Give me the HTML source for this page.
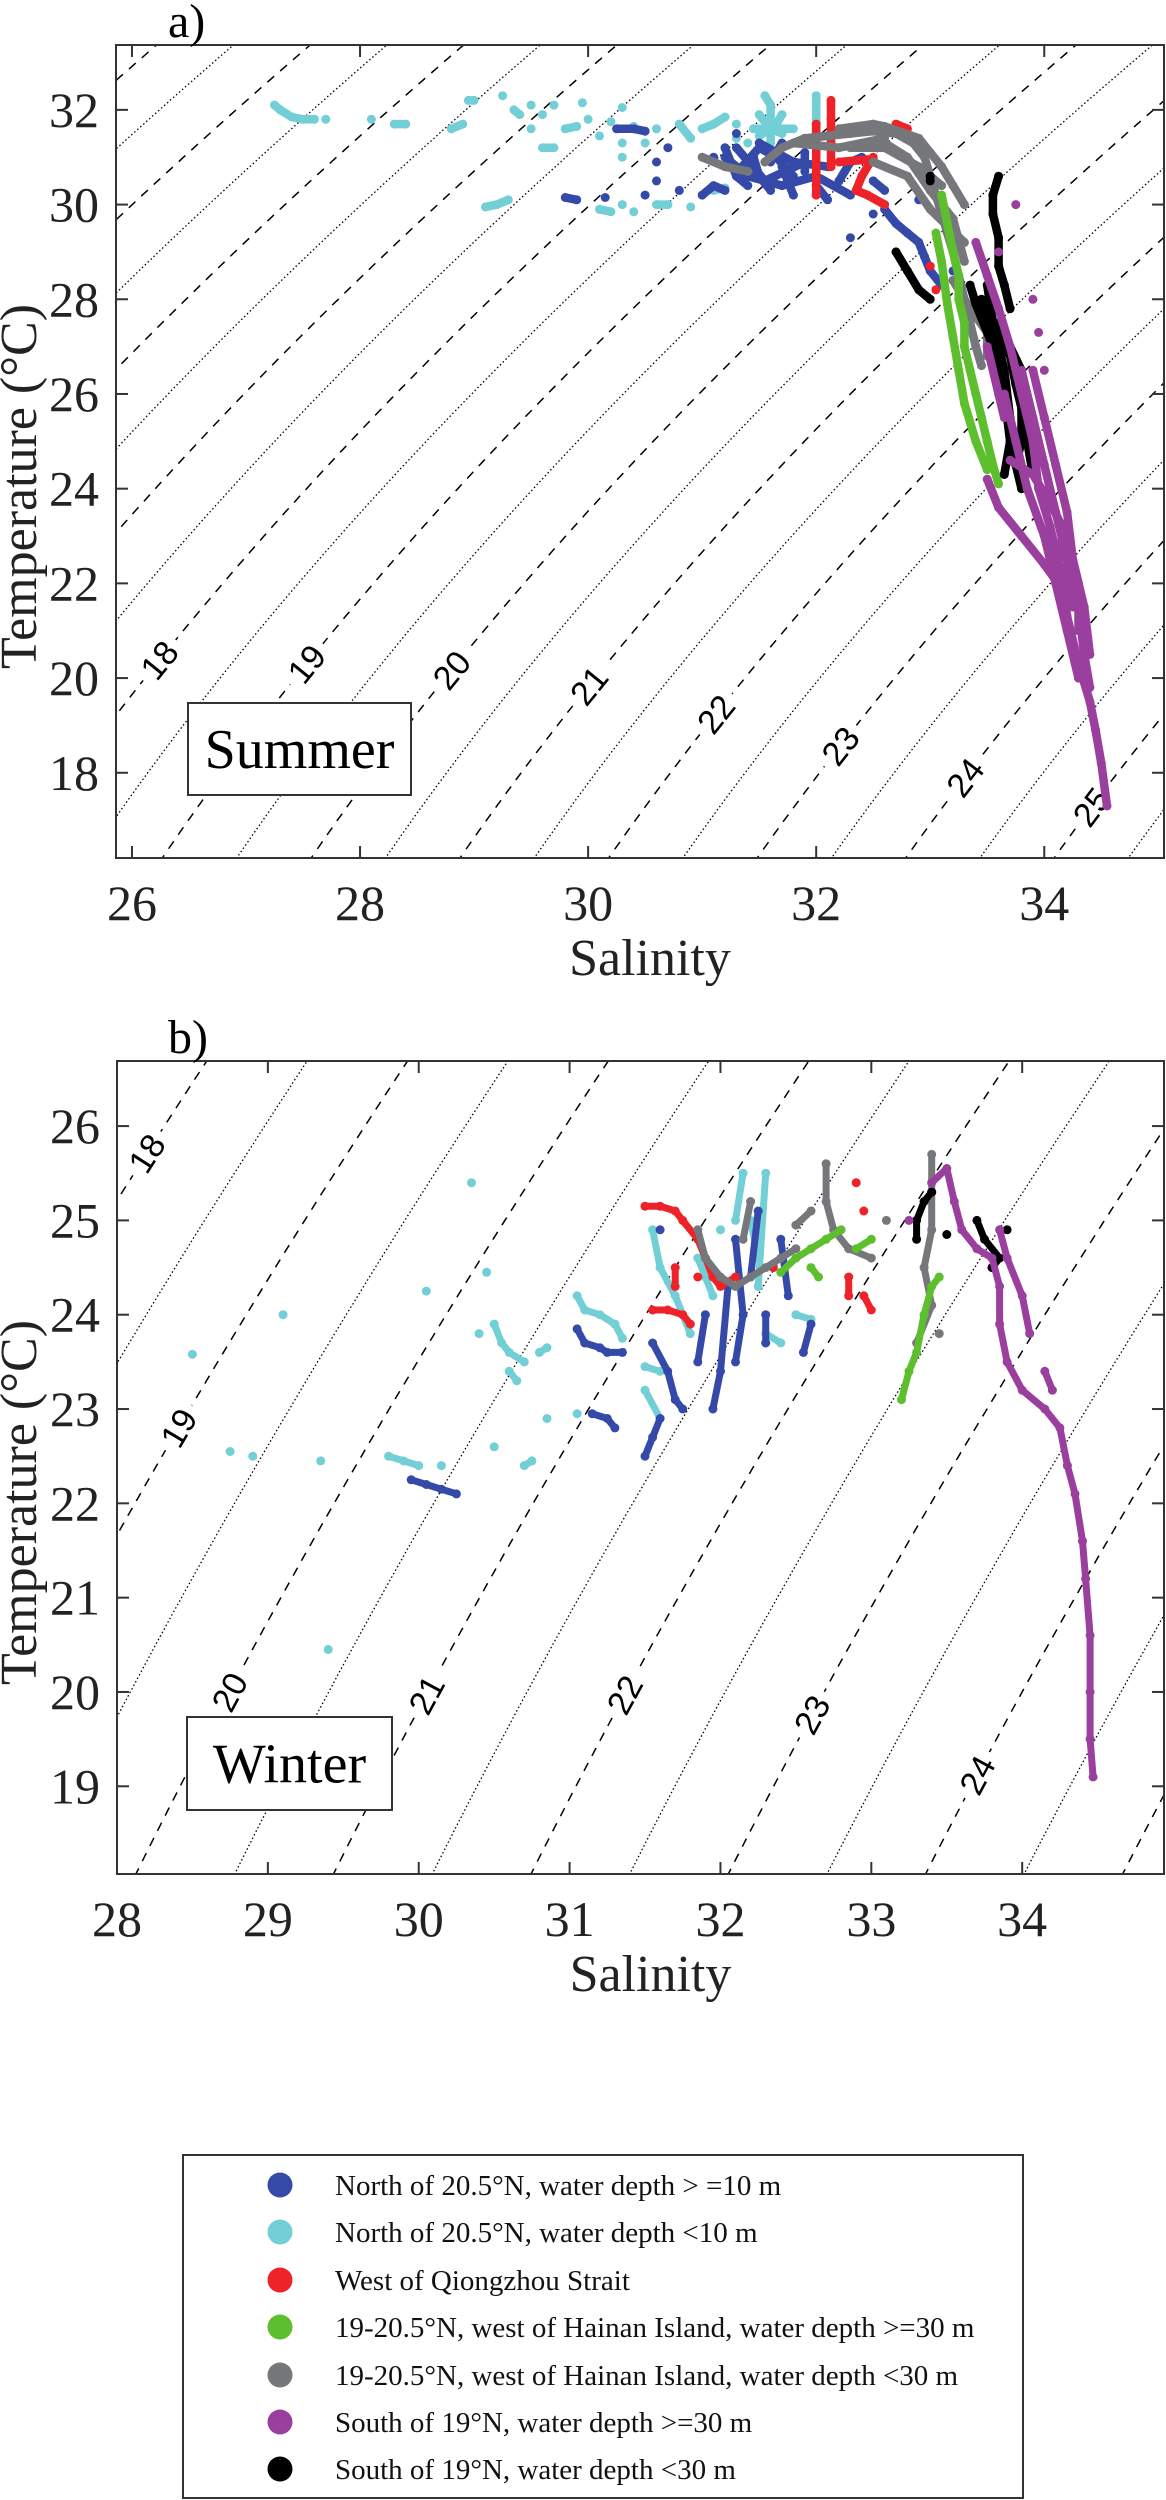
<!DOCTYPE html>
<html><head><meta charset="utf-8"><style>
html,body{margin:0;padding:0;background:#fff;}
svg{display:block;font-family:"Liberation Serif",serif;}
</style></head><body>
<svg id="fig" width="1166" height="2500" viewBox="0 0 1166 2500" xmlns="http://www.w3.org/2000/svg">
<defs>
<clipPath id="clipA"><rect x="116" y="45" width="1048" height="813"/></clipPath>
<clipPath id="clipB"><rect x="117" y="1061" width="1047" height="813"/></clipPath>
</defs>
<g id="panelA"></g>
<g id="panelB"></g>
<g id="legend">
<rect x="183" y="2155" width="840" height="343" fill="#fff" stroke="#333" stroke-width="2"/>
</g>
</svg>
<script>
const NS="http://www.w3.org/2000/svg";
const seriesNames=["North of 20.5°N, water depth > =10 m","North of 20.5°N, water depth <10 m","West of Qiongzhou Strait","19-20.5°N, west of Hainan Island, water depth >=30 m","19-20.5°N, west of Hainan Island, water depth <30 m","South of 19°N, water depth >=30 m","South of 19°N, water depth <30 m"];
const seriesColors=["#3449a8","#72cfd6","#ee2229","#5dbf2e","#76777b","#9a3f9e","#000000"];
const seriesKeys=["blue","cyan","red","green","gray","purple","black"];

const aXTicks=[26,28,30,32,34];
const aYTicks=[18,20,22,24,26,28,30,32];
const bXTicks=[28,29,30,31,32,33,34];
const bYTicks=[19,20,21,22,23,24,25,26];
const aLabelLevels=[18,19,20,21,22,23,24,25];
const aLabelT=[20.38,20.3,20.17,19.84,19.24,18.57,17.9,17.28];
const bLabelLevels=[18,19,20,21,22,23,24];
const bLabelT=[25.71,22.8,20.0,19.97,19.97,19.76,19.12];

// Summer data: tracks of [S,T]
const sumBlue=[[[29.8,30.15],[29.9,30.1]],[[30.15,30.15]],[[30.25,31.6],[30.4,31.6],[30.5,31.55]],[[30.5,30.2]],[[30.6,30.5]],[[30.7,31.2]],[[30.8,30.3]],[[31.0,30.2],[31.1,30.4],[31.2,30.3]],[[31.2,31.2],[31.25,30.9],[31.3,30.6],[31.4,30.4]],[[31.45,31.0],[31.5,30.6],[31.6,30.3]],[[31.6,30.9],[31.7,31.3]],[[31.7,30.8],[31.75,30.5],[31.8,30.2]],[[31.9,30.7],[31.9,31.1]],[[32.0,30.4],[32.1,30.1]],[[32.2,30.5],[32.3,30.9],[32.4,31.0]],[[32.5,30.5],[32.6,30.3]],[[32.6,29.9],[32.7,29.6],[32.8,29.4],[32.9,29.2],[32.95,28.9],[33.0,28.6],[33.1,28.3]],[[33.2,28.6]],[[32.9,30.1]],[[32.5,29.8]],[[32.3,29.3]],[[31.1,31.0]],[[31.3,31.5]],[[30.6,30.9]],[[31.35,30.8],[31.5,31.2],[31.65,31.0],[31.8,30.6]],[[31.3,31.2],[31.55,30.5],[31.9,30.9]],[[31.2,31.0],[31.4,30.6],[31.7,30.4],[32.0,30.6],[32.3,30.2]],[[31.5,31.3],[31.8,30.9],[32.1,30.8]]];
const sumCyan=[[[27.25,32.1],[27.3,32.0],[27.4,31.85],[27.5,31.8],[27.6,31.8]],[[27.7,31.8]],[[28.1,31.8]],[[28.3,31.7],[28.4,31.7]],[[28.8,31.6],[28.9,31.7]],[[28.95,32.2],[29.0,32.2]],[[29.1,29.95],[29.2,30.0],[29.3,30.1]],[[29.25,32.3]],[[29.35,32.0],[29.4,31.9]],[[29.5,32.1]],[[29.6,31.9]],[[29.5,31.6]],[[29.6,31.2],[29.7,31.2]],[[29.7,32.1]],[[29.8,31.6],[29.9,31.65]],[[29.95,32.15]],[[30.0,31.8]],[[30.1,31.45]],[[30.2,31.75]],[[30.3,32.05]],[[30.3,31.3]],[[30.3,31.0]],[[30.4,31.65]],[[30.5,31.3]],[[30.6,31.6]],[[30.1,29.9],[30.2,29.85]],[[30.3,30.0]],[[30.4,29.85]],[[30.6,30.0],[30.7,30.0]],[[30.8,30.3]],[[30.9,29.95]],[[30.8,31.7],[30.9,31.4]],[[31.0,31.6],[31.1,31.7],[31.2,31.85]],[[31.3,31.4]],[[31.3,31.7]],[[31.4,31.3]],[[31.45,31.6],[31.6,31.6],[31.7,31.5]],[[31.5,31.9],[31.6,31.6],[31.8,31.6]],[[31.5,31.45],[31.6,31.6],[31.65,31.7],[31.7,31.9]],[[31.55,32.3],[31.6,32.1],[31.6,31.6],[31.6,31.3]],[[31.55,31.75]],[[32.0,32.3],[32.0,31.8],[32.0,31.5]],[[31.1,30.3],[31.2,30.35]]];
const sumRed=[[[32.0,30.2],[32.0,30.7],[32.0,31.2],[32.0,31.7]],[[32.13,30.8],[32.13,31.3],[32.13,31.8],[32.13,32.2]],[[32.5,31.0],[32.4,30.6],[32.35,30.3],[32.45,30.2],[32.6,30.0]],[[32.2,30.9],[32.45,30.95]],[[32.7,31.7],[32.8,31.6]],[[33.0,28.7]],[[33.05,28.2]]];
const sumGray=[[[31.55,30.9],[31.7,31.2],[31.9,31.4],[32.1,31.45],[32.3,31.5],[32.5,31.55],[32.7,31.5],[32.85,31.3],[32.95,31.0],[33.0,30.6],[33.05,30.2],[33.1,29.8],[33.15,29.4],[33.2,29.0],[33.25,28.5],[33.3,28.0],[33.35,27.5],[33.4,27.0],[33.45,26.6]],[[32.2,31.6],[32.5,31.7],[32.6,31.65],[32.9,31.4],[33.0,31.1],[33.1,30.8],[33.2,30.4],[33.3,30.0]],[[32.5,30.9],[32.8,30.6],[33.0,29.9],[33.3,29.2]],[[33.2,28.4],[33.35,27.8],[33.5,27.3],[33.5,26.8]],[[31.0,31.0],[31.2,30.8],[31.4,30.7]],[[32.3,31.2],[32.6,31.2],[32.9,30.8],[33.1,30.4]],[[32.6,31.3],[32.8,31.0],[33.0,30.3],[33.2,29.7],[33.3,28.8]],[[31.8,31.3],[32.2,31.2],[32.6,31.4]]];
const sumGreen=[[[33.1,30.2],[33.15,29.6],[33.2,29.0],[33.25,28.5],[33.25,28.0],[33.3,27.5],[33.3,27.0],[33.35,26.5],[33.4,26.0],[33.45,25.5],[33.5,25.0],[33.55,24.5],[33.6,24.1]],[[33.05,29.4],[33.1,28.8],[33.15,27.9],[33.2,27.2],[33.25,26.5],[33.3,25.8],[33.4,25.0],[33.5,24.4]]];
const sumBlack=[[[33.0,30.6],[33.0,30.5]],[[32.7,29.0],[32.8,28.6],[32.9,28.2],[33.0,28.0]],[[33.45,28.0],[33.5,27.6],[33.6,27.2],[33.7,26.8],[33.75,26.2],[33.8,25.7],[33.8,25.0],[33.75,24.5],[33.8,24.0]],[[33.6,30.6],[33.55,30.2],[33.55,29.8],[33.6,29.3],[33.6,28.7],[33.65,28.3],[33.7,27.8]],[[33.35,28.3],[33.4,27.9],[33.55,27.0],[33.65,26.0],[33.7,25.0],[33.65,24.3]],[[33.6,27.5],[33.7,27.0],[33.8,26.5],[33.85,25.8],[33.85,25.0],[33.9,24.3]],[[33.5,28.3],[33.55,27.5],[33.65,26.5],[33.7,25.5],[33.75,24.6]]];
const sumPurple=[[[33.4,29.2],[33.5,28.5],[33.6,27.8],[33.7,27.0],[33.8,26.0],[33.9,25.0],[33.95,24.0],[34.05,23.2],[34.15,22.2],[34.2,21.3],[34.3,20.3],[34.4,19.5],[34.45,18.9],[34.5,18.2],[34.55,17.3]],[[33.5,24.2],[33.6,23.6],[33.8,23.0],[34.0,22.4],[34.15,21.9]],[[33.7,24.6],[33.9,24.3],[34.05,23.7],[34.2,23.0],[34.3,22.0],[34.3,21.0]],[[33.75,30.0]],[[33.6,29.0]],[[33.9,28.0]],[[33.95,27.3]],[[34.0,26.5]],[[34.05,23.0],[34.2,22.5],[34.25,21.5]],[[33.8,26.5],[33.9,25.5],[34.0,24.5],[34.1,23.5],[34.2,22.5],[34.3,21.5],[34.35,20.5],[34.4,19.8]],[[33.65,26.0],[33.75,25.0],[33.85,24.0],[34.0,23.0],[34.1,22.0],[34.2,21.0],[34.3,20.0]],[[33.9,26.5],[34.0,25.5],[34.1,24.5],[34.2,23.5],[34.25,22.5],[34.35,21.5],[34.4,20.5]],[[33.5,27.0],[33.6,26.0],[33.65,25.5]]];

// Winter data
const winBlue=[[[29.95,22.25],[30.05,22.2],[30.15,22.15],[30.25,22.1]],[[31.05,23.85],[31.1,23.7],[31.2,23.65],[31.25,23.6],[31.35,23.6]],[[31.15,22.95],[31.25,22.9],[31.3,22.8]],[[31.5,22.5],[31.55,22.7],[31.6,22.9]],[[31.55,23.7],[31.65,23.4],[31.7,23.1],[31.75,23.0]],[[31.85,23.5],[31.9,24.0]],[[31.95,23.0],[32.0,23.4],[32.05,24.3]],[[32.1,23.5],[32.15,24.0],[32.1,24.8]],[[32.2,24.4],[32.25,25.1]],[[32.3,24.0],[32.3,23.7]],[[32.4,24.8],[32.45,24.2]],[[32.55,23.6],[32.6,23.9]],[[31.6,24.9]]];
const winCyan=[[[28.5,23.58]],[[28.75,22.55]],[[28.9,22.5]],[[29.1,24.0]],[[29.35,22.45]],[[29.4,20.45]],[[29.8,22.5],[29.9,22.45],[30.0,22.4]],[[30.05,24.25]],[[30.15,22.4]],[[30.35,25.4]],[[30.4,23.8]],[[30.45,24.45]],[[30.5,23.9],[30.55,23.7],[30.6,23.6],[30.7,23.5]],[[30.8,23.6],[30.85,23.65]],[[30.6,23.4],[30.65,23.3]],[[30.5,22.6]],[[30.7,22.4],[30.75,22.45]],[[30.85,22.9]],[[31.05,22.95]],[[31.05,24.2],[31.1,24.05],[31.2,24.0],[31.3,23.9],[31.35,23.75]],[[31.5,23.45],[31.6,23.4]],[[31.55,24.9],[31.6,24.5],[31.7,24.2],[31.75,24.0],[31.8,23.8]],[[31.85,24.6],[31.9,24.4],[31.95,24.2]],[[32.0,24.9]],[[32.1,25.0],[32.15,25.5]],[[32.2,25.0],[32.25,24.6]],[[32.3,25.5],[32.25,24.3]],[[32.3,23.8],[32.4,23.7]],[[32.5,24.0],[32.6,23.95]],[[31.6,22.9],[31.5,23.2]]];
const winRed=[[[31.5,25.15],[31.6,25.15],[31.7,25.1],[31.75,25.0],[31.85,24.8],[31.9,24.6],[31.95,24.4],[32.0,24.3],[32.1,24.4]],[[31.55,24.05],[31.65,24.05],[31.75,24.0],[31.8,23.9]],[[31.7,24.5],[31.7,24.3]],[[31.85,24.4]],[[32.85,24.4],[32.85,24.2]],[[32.9,25.4]],[[32.95,25.1]],[[32.95,24.2],[33.0,24.05]],[[32.35,24.5]]];
const winGreen=[[[32.4,24.45],[32.5,24.6],[32.6,24.7],[32.7,24.8],[32.8,24.9]],[[32.6,24.5],[32.65,24.4]],[[32.9,24.7],[33.0,24.8]],[[33.2,23.1],[33.25,23.4],[33.3,23.6],[33.35,24.0],[33.4,24.3],[33.45,24.4]]];
const winGray=[[[31.85,24.9],[31.9,24.6],[32.0,24.4],[32.1,24.3],[32.2,24.4],[32.3,24.5],[32.4,24.6],[32.5,24.7]],[[32.2,25.2],[32.15,24.8]],[[32.5,24.95],[32.6,25.1]],[[32.7,25.6],[32.7,25.2],[32.75,24.9],[32.85,24.7],[33.0,24.6]],[[33.1,25.0]],[[33.4,25.7],[33.4,25.3],[33.4,24.9],[33.35,24.5],[33.4,24.1],[33.3,23.7]],[[33.45,23.8]]];
const winBlack=[[[33.3,24.8],[33.3,25.0],[33.35,25.2],[33.4,25.3]],[[33.5,24.85]],[[33.7,25.0],[33.75,24.8],[33.85,24.6],[33.8,24.5]],[[33.9,24.9]]];
const winPurple=[[[33.25,25.0]],[[33.4,25.4],[33.5,25.55],[33.55,25.2],[33.6,24.9],[33.7,24.7],[33.8,24.6],[33.85,24.3],[33.85,23.9],[33.9,23.5],[34.0,23.2],[34.15,23.0],[34.25,22.8],[34.3,22.4],[34.35,22.1],[34.4,21.6],[34.42,21.2],[34.45,20.6],[34.45,20.0],[34.45,19.5],[34.47,19.1]],[[33.85,24.9],[33.9,24.6],[34.0,24.2],[34.05,23.8]],[[34.15,23.4],[34.2,23.2]]];

const summerSeries=[sumBlue,sumCyan,sumRed,sumGreen,sumGray,sumPurple,sumBlack];
const winterSeries=[winBlue,winCyan,winRed,winGreen,winGray,winPurple,winBlack];
const drawOrder=[1,0,2,4,3,6,5];

function sigmaT(S,T){
  const rw=999.842594+6.793952e-2*T-9.095290e-3*T*T+1.001685e-4*T**3-1.120083e-6*T**4+6.536332e-9*T**5;
  const A=0.824493-4.0899e-3*T+7.6438e-5*T*T-8.2467e-7*T**3+5.3875e-9*T**4;
  const B=-5.72466e-3+1.0227e-4*T-1.6546e-6*T*T;
  return rw+A*S+B*Math.pow(S,1.5)+4.8314e-4*S*S-1000;
}
function solveS(sig,T){
  let lo=0,hi=50;
  for(let i=0;i<50;i++){const m=(lo+hi)/2; if(sigmaT(m,T)<sig) lo=m; else hi=m;}
  return (lo+hi)/2;
}
function el(tag,attrs,parent){const e=document.createElementNS(NS,tag);for(const k in attrs)e.setAttribute(k,attrs[k]);if(parent)parent.appendChild(e);return e;}

function drawPanel(g,cfg){
  const sx=s=>cfg.x0+(s-cfg.smin)/(cfg.smax-cfg.smin)*(cfg.x1-cfg.x0);
  const sy=t=>cfg.y1-(t-cfg.tmin)/(cfg.tmax-cfg.tmin)*(cfg.y1-cfg.y0);
  const cg=el("g",{"clip-path":`url(#${cfg.clip})`},g);
  
  
  for(let lv=10;lv<=30;lv+=0.5){
    let d="";
    for(let t=cfg.tmin-1;t<=cfg.tmax+1;t+=0.1){
      const s=solveS(lv,t);
      d+=(d?"L":"M")+sx(s).toFixed(1)+","+sy(t).toFixed(1);
    }
    const isInt=Math.abs(lv-Math.round(lv))<1e-6;
    const p=el("path",{d:d,fill:"none",stroke:"#000","stroke-width":isInt?1.5:1.3,"stroke-dasharray":isInt?"9,8":"1.5,2.5"},cg);
    
    
  }
  cfg.labelLevels.forEach((lv,i)=>{
    const t=cfg.labelT[i];
    const s=solveS(lv,t);
    const x=sx(s),y=sy(t);
    const x2=sx(solveS(lv,t+0.3)),y2=sy(t+0.3);
    const ang=Math.atan2(y2-y,x2-x)*180/Math.PI;
    const lg=el("g",{transform:`translate(${x.toFixed(1)},${y.toFixed(1)}) rotate(${ang.toFixed(1)})`},cg);
    
    
    el("rect",{x:-26,y:-17,width:52,height:34,fill:"#fff"},lg);
    const tx=el("text",{x:0,y:12,"text-anchor":"middle","font-size":34,"font-family":"Liberation Sans, sans-serif",fill:"#000"},lg);
    tx.textContent=String(lv);
  });
  const dg=el("g",{"clip-path":`url(#${cfg.clip})`},g);
  
  
  drawOrder.forEach(si=>{
    const sg=el("g",{},dg);
    
    
    cfg.series[si].forEach(track=>{
      if(track.length>1){
        const pts=track.map(p=>sx(p[0]).toFixed(1)+","+sy(p[1]).toFixed(1)).join(" ");
        const pl=el("polyline",{points:pts,fill:"none",stroke:seriesColors[si],"stroke-width":cfg.sw,"stroke-linecap":"round","stroke-linejoin":"round"},sg);
        
        
      }
      track.forEach(p=>{
        const c=el("circle",{cx:sx(p[0]).toFixed(1),cy:sy(p[1]).toFixed(1),r:4.5,fill:seriesColors[si]},sg);
        
        
      });
    });
  });
  const fr=el("rect",{x:cfg.x0,y:cfg.y0,width:cfg.x1-cfg.x0,height:cfg.y1-cfg.y0,fill:"none",stroke:"#333","stroke-width":2},g);
  
  
  const ax=el("g",{},g);
  
  
  cfg.xticks.forEach(v=>{
    const x=sx(v);
    el("line",{x1:x,x2:x,y1:cfg.y1,y2:cfg.y1-12,stroke:"#333","stroke-width":2},ax);
    el("line",{x1:x,x2:x,y1:cfg.y0,y2:cfg.y0+12,stroke:"#333","stroke-width":2},ax);
    const t=el("text",{x:x,y:cfg.y1+62,"text-anchor":"middle","font-size":50,fill:"#222"},ax);
    
    
    t.textContent=String(v);
  });
  const ay=el("g",{},g);
  
  
  cfg.yticks.forEach(v=>{
    const y=sy(v);
    el("line",{x1:cfg.x0,x2:cfg.x0+12,y1:y,y2:y,stroke:"#333","stroke-width":2},ay);
    el("line",{x1:cfg.x1,x2:cfg.x1-12,y1:y,y2:y,stroke:"#333","stroke-width":2},ay);
    const t=el("text",{x:cfg.x0-17,y:y+17,"text-anchor":"end","font-size":50,fill:"#222"},ay);
    
    
    t.textContent=String(v);
  });
  const xt=el("text",{x:(cfg.x0+cfg.x1)/2+10,y:cfg.y1+117,"text-anchor":"middle","font-size":52,fill:"#222"},g);
  
  
  xt.textContent="Salinity";
  const yc=(cfg.y0+cfg.y1)/2+35;
  const yt=el("text",{x:0,y:0,transform:`translate(36,${yc}) rotate(-90)`,"text-anchor":"middle","font-size":52,fill:"#222"},g);
  
  
  yt.textContent="Temperature (°C)";
  const pl=el("text",{x:168,y:cfg.y0-8,"font-size":48,fill:"#000"},g);
  
  
  pl.textContent=cfg.panelLabel;
  const bx=el("rect",{x:cfg.box[0],y:cfg.box[1],width:cfg.box[2],height:cfg.box[3],fill:"#fff",stroke:"#333","stroke-width":2},g);
  
  
  const st=el("text",{x:cfg.box[0]+cfg.box[2]/2,y:cfg.box[1]+cfg.box[3]/2+19,"text-anchor":"middle","font-size":56,fill:"#000"},g);
  
  
  st.textContent=cfg.season;
}

drawPanel(document.getElementById("panelA"),{x0:116,x1:1164,y0:45,y1:858,smin:25.86,smax:35.05,tmin:16.2,tmax:33.37,clip:"clipA",xticks:aXTicks,yticks:aYTicks,labelLevels:aLabelLevels,labelT:aLabelT,series:summerSeries,panelLabel:"a)",season:"Summer",box:[188,703,223,92],sw:8.5});
drawPanel(document.getElementById("panelB"),{x0:117,x1:1164,y0:1061,y1:1874,smin:28,smax:34.94,tmin:18.07,tmax:26.69,clip:"clipB",xticks:bXTicks,yticks:bYTicks,labelLevels:bLabelLevels,labelT:bLabelT,series:winterSeries,panelLabel:"b)",season:"Winter",box:[187,1717,205,93],sw:7});

const leg=document.getElementById("legend");
const legY=[2185,2232,2280,2327,2375,2422,2469];
seriesNames.forEach((n,i)=>{
  const g=el("g",{},leg);
  
  
  el("ellipse",{cx:280,cy:legY[i],rx:12.5,ry:12.5,fill:seriesColors[i]},g);
  const t=el("text",{x:335,y:legY[i]+10,"font-size":29,fill:"#111"},g);
  t.textContent=n;
});
</script>
</body></html>
